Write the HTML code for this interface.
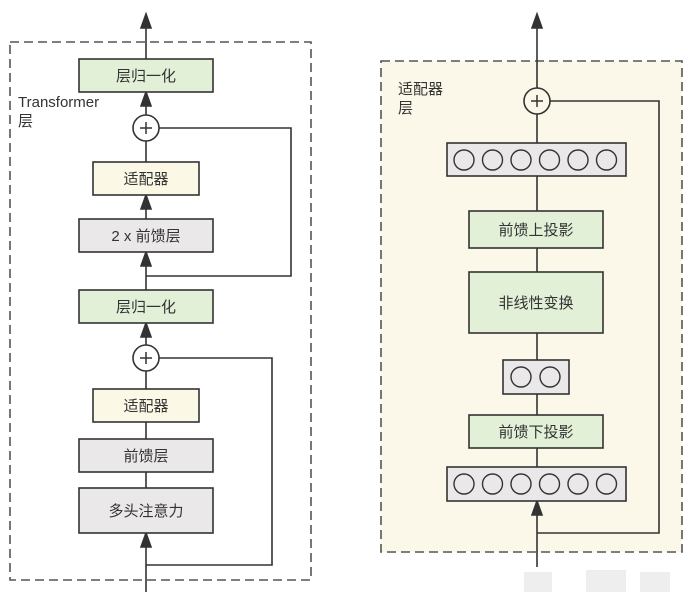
<!DOCTYPE html>
<html><head><meta charset="utf-8"><style>
body{margin:0;background:#fff;}
svg text{font-family:"Liberation Sans","Noto Sans CJK SC",sans-serif;fill:#333;}
</style></head><body>
<svg width="688" height="602" viewBox="0 0 688 602" xmlns="http://www.w3.org/2000/svg">
<g stroke="#333" stroke-width="1.6" fill="none">
<rect x="10" y="42" width="301" height="538" stroke-dasharray="9,5" stroke="#555"/>
<line x1="146" y1="59" x2="146" y2="14"/><path d="M141,28 L146,14 L151,28Z" fill="#333"/>
<line x1="146" y1="115" x2="146" y2="92"/><path d="M141,106 L146,92 L151,106Z" fill="#333"/>
<line x1="146" y1="141" x2="146" y2="162"/>
<line x1="146" y1="219" x2="146" y2="195"/><path d="M141,209 L146,195 L151,209Z" fill="#333"/>
<line x1="146" y1="290" x2="146" y2="252"/><path d="M141,266 L146,252 L151,266Z" fill="#333"/>
<polyline points="159,128 291,128 291,276 146,276"/>
<line x1="146" y1="345" x2="146" y2="323"/><path d="M141,337 L146,323 L151,337Z" fill="#333"/>
<line x1="146" y1="371" x2="146" y2="389"/>
<line x1="146" y1="422" x2="146" y2="439"/>
<line x1="146" y1="472" x2="146" y2="488"/>
<line x1="146" y1="592" x2="146" y2="533"/><path d="M141,547 L146,533 L151,547Z" fill="#333"/>
<polyline points="159,358 272,358 272,565 146,565"/>
<rect x="381" y="61" width="301" height="491" stroke-dasharray="9,5" stroke="#555" fill="#fbf8e9"/>
<line x1="537" y1="88" x2="537" y2="14"/><path d="M532,28 L537,14 L542,28Z" fill="#333"/>
<line x1="537" y1="114" x2="537" y2="467"/>
<polyline points="550,101 659,101 659,533 537,533"/>
<line x1="537" y1="567" x2="537" y2="501"/><path d="M532,515 L537,501 L542,515Z" fill="#333"/>
</g>
<g stroke="#333" stroke-width="1.6">
<rect x="79" y="59" width="134" height="33" fill="#e2f0d8"/>
<rect x="93" y="162" width="106" height="33" fill="#fbf8e6"/>
<rect x="79" y="219" width="134" height="33" fill="#ebe8ea"/>
<rect x="79" y="290" width="134" height="33" fill="#e2f0d8"/>
<rect x="93" y="389" width="106" height="33" fill="#fbf8e6"/>
<rect x="79" y="439" width="134" height="33" fill="#ebe8ea"/>
<rect x="79" y="488" width="134" height="45" fill="#ebe8ea"/>
<circle cx="146" cy="128" r="13" fill="#fff"/>
<circle cx="146" cy="358" r="13" fill="#fff"/>
<circle cx="537" cy="101" r="13" fill="#fbf8e9"/>
<rect x="447" y="143" width="179" height="33" fill="#ebe8ea"/>
<rect x="469" y="211" width="134" height="37" fill="#e2f0d8"/>
<rect x="469" y="272" width="134" height="61" fill="#e2f0d8"/>
<rect x="503" y="360" width="66" height="34" fill="#ebe8ea"/>
<rect x="469" y="415" width="134" height="33" fill="#e2f0d8"/>
<rect x="447" y="467" width="179" height="34" fill="#ebe8ea"/>
</g>
<g stroke="#333" stroke-width="1.4" fill="#ebe8ea">
<circle cx="464" cy="160" r="10"/><circle cx="492.5" cy="160" r="10"/><circle cx="521" cy="160" r="10"/><circle cx="549.5" cy="160" r="10"/><circle cx="578" cy="160" r="10"/><circle cx="606.5" cy="160" r="10"/>
<circle cx="521" cy="377" r="10"/><circle cx="550" cy="377" r="10"/>
<circle cx="464" cy="484" r="10"/><circle cx="492.5" cy="484" r="10"/><circle cx="521" cy="484" r="10"/><circle cx="549.5" cy="484" r="10"/><circle cx="578" cy="484" r="10"/><circle cx="606.5" cy="484" r="10"/>
</g>
<g stroke="#333" stroke-width="1.5">
<line x1="140" y1="128" x2="152" y2="128"/><line x1="146" y1="122" x2="146" y2="134"/>
<line x1="140" y1="358" x2="152" y2="358"/><line x1="146" y1="352" x2="146" y2="364"/>
<line x1="531" y1="101" x2="543" y2="101"/><line x1="537" y1="95" x2="537" y2="107"/>
</g>
<g font-size="15" text-anchor="middle">
<text x="146" y="81">层归一化</text>
<text x="146" y="184">适配器</text>
<text x="146" y="241">2 x 前馈层</text>
<text x="146" y="312">层归一化</text>
<text x="146" y="411">适配器</text>
<text x="146" y="461">前馈层</text>
<text x="146" y="516">多头注意力</text>
<text x="536" y="235">前馈上投影</text>
<text x="536" y="308">非线性变换</text>
<text x="536" y="437">前馈下投影</text>
</g>
<g font-size="15">
<text x="18" y="107">Transformer</text>
<text x="18" y="126">层</text>
<text x="398" y="94">适配器</text>
<text x="398" y="113">层</text>
</g>
<g fill="#eeeeee">
<rect x="524" y="572" width="28" height="20"/><rect x="586" y="570" width="40" height="22"/><rect x="640" y="572" width="30" height="20"/>
</g>
</svg>
</body></html>
